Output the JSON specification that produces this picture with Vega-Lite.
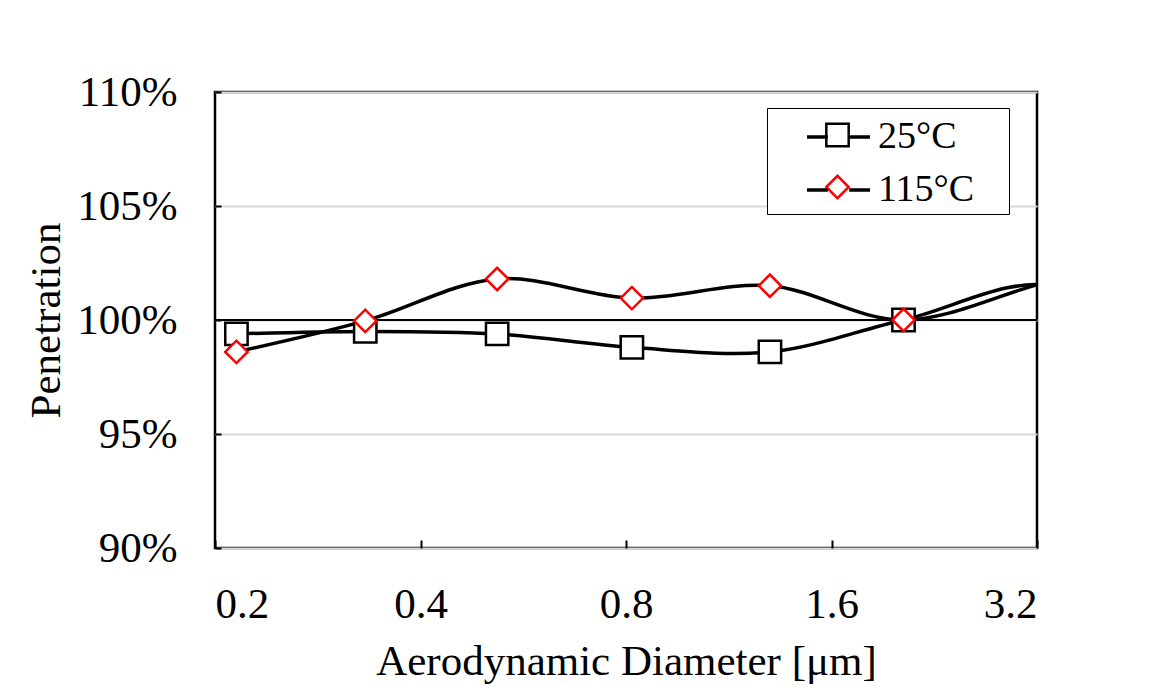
{
  "$schema": "https://vega.github.io/schema/vega-lite/v6.json",
  "width": 822,
  "height": 456,
  "autosize": {"type": "none"},
  "padding": {"left": 215, "top": 92, "right": 127, "bottom": 139},
  "config": {
    "font": "Liberation Serif",
    "view": {"stroke": "black", "strokeWidth": 2.5},
    "axis": {
      "labelFont": "Liberation Serif",
      "titleFont": "Liberation Serif",
      "labelColor": "black",
      "titleColor": "black",
      "labelFontSize": 43,
      "titleFontSize": 43,
      "titleFontWeight": "normal",
      "domain": false,
      "tickColor": "black",
      "tickWidth": 2
    }
  },
  "data": {
    "values": [
      {"d": 0.215, "p": 0.9939, "series": "25°C"},
      {"d": 0.332, "p": 0.995, "series": "25°C"},
      {"d": 0.518, "p": 0.9939, "series": "25°C"},
      {"d": 0.816, "p": 0.988, "series": "25°C"},
      {"d": 1.30, "p": 0.986, "series": "25°C"},
      {"d": 2.04, "p": 1.0, "series": "25°C"},
      {"d": 3.4, "p": 1.0145, "series": "25°C"},
      {"d": 5.0, "p": 0.97, "series": "25°C"},
      {"d": 0.215, "p": 0.986, "series": "115°C"},
      {"d": 0.332, "p": 0.9996, "series": "115°C"},
      {"d": 0.518, "p": 1.018, "series": "115°C"},
      {"d": 0.816, "p": 1.0096, "series": "115°C"},
      {"d": 1.30, "p": 1.015, "series": "115°C"},
      {"d": 2.04, "p": 1.0, "series": "115°C"},
      {"d": 3.4, "p": 1.0175, "series": "115°C"},
      {"d": 5.0, "p": 1.025, "series": "115°C"}
    ]
  },
  "layer": [
    {
      "mark": {"type": "rule", "color": "black", "strokeWidth": 2},
      "encoding": {"y": {"datum": 1, "type": "quantitative"}}
    },
    {
      "mark": {"type": "line", "interpolate": "catmull-rom", "clip": true, "strokeWidth": 3.5},
      "encoding": {
        "x": {
          "field": "d", "type": "quantitative",
          "scale": {"type": "log", "base": 2, "domain": [0.2, 3.2], "nice": false},
          "axis": {"title": "Aerodynamic Diameter [μm]", "values": [0.2, 0.4, 0.8, 1.6, 3.2], "format": ".1f", "grid": false, "tickSize": -8, "labelPadding": 43, "titlePadding": 14}
        },
        "y": {
          "field": "p", "type": "quantitative",
          "scale": {"domain": [0.9, 1.1], "nice": false, "zero": false},
          "axis": {"title": "Penetration", "values": [0.9, 0.95, 1.0, 1.05, 1.1], "format": ".0%", "grid": true, "gridColor": "#d9d9d9", "gridWidth": 2, "tickSize": -6, "labelPadding": 44, "titlePadding": 8}
        },
        "color": {
          "field": "series", "type": "nominal",
          "scale": {"domain": ["25°C", "115°C", "-"], "range": ["black", "black", "black"]},
          "legend": {
            "title": null, "orient": "none", "legendX": 552, "legendY": 3.5,
            "values": ["25°C", "115°C"],
            "symbolType": "M-1,0H-0.34M0.34,0H1", "symbolSize": 3969, "symbolStrokeWidth": 3.5,
            "labelFont": "Liberation Serif", "labelFontSize": 38, "labelColor": "black",
            "padding": 8, "symbolOffset": 30, "labelOffset": 6, "rowPadding": -11, "zindex": 1
          }
        }
      }
    },
    {
      "transform": [{"filter": "datum.d <= 3.2"}],
      "mark": {"type": "point", "fill": "white", "opacity": 1, "strokeWidth": 2.5, "size": 500},
      "encoding": {
        "x": {"field": "d", "type": "quantitative"},
        "y": {"field": "p", "type": "quantitative"},
        "shape": {
          "field": "series", "type": "nominal",
          "scale": {"domain": ["25°C", "115°C"], "range": ["square", "diamond"]},
          "legend": {
            "title": null, "orient": "none", "legendX": 552, "legendY": 16,
            "symbolSize": 500, "symbolStrokeWidth": 2.5, "symbolFillColor": "white",
            "labelFont": "Liberation Serif", "labelFontSize": 38, "labelColor": "transparent",
            "labelExpr": "''",
            "strokeColor": "black", "fillColor": "white",
            "padding": 8, "symbolOffset": 43.5, "labelOffset": 144, "rowPadding": 14, "zindex": 0
          }
        },
        "stroke": {
          "field": "series", "type": "nominal",
          "scale": {"domain": ["25°C", "115°C"], "range": ["black", "red"]},
          "legend": {
            "title": null, "orient": "none", "legendX": 552, "legendY": 16,
            "symbolSize": 500, "symbolStrokeWidth": 2.5, "symbolFillColor": "white",
            "labelFont": "Liberation Serif", "labelFontSize": 38, "labelColor": "transparent",
            "labelExpr": "''",
            "strokeColor": "black", "fillColor": "white",
            "padding": 8, "symbolOffset": 43.5, "labelOffset": 144, "rowPadding": 14, "zindex": 0
          }
        }
      }
    }
  ]
}
